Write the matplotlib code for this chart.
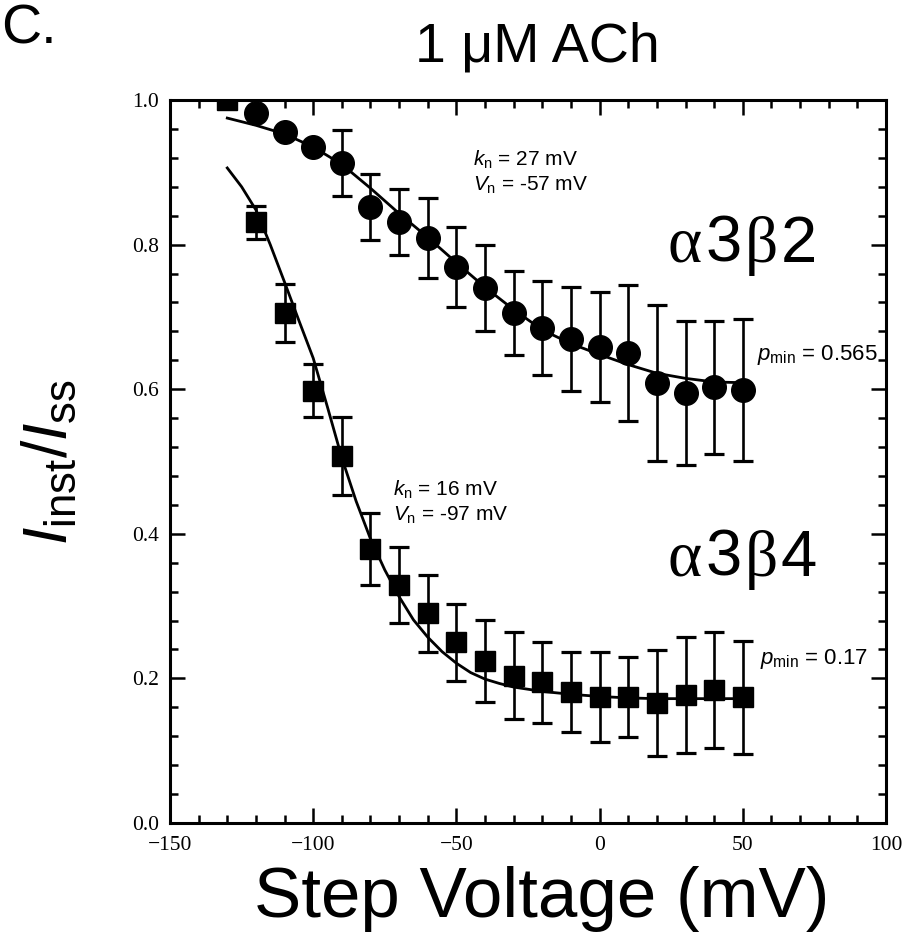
import matplotlib
matplotlib.use("Agg")
import matplotlib.pyplot as plt
from matplotlib.ticker import MultipleLocator

plt.rcParams["mathtext.fontset"] = "custom"
plt.rcParams["mathtext.rm"] = "Liberation Sans"
plt.rcParams["mathtext.it"] = "Liberation Sans:italic"
plt.rcParams["mathtext.sf"] = "Liberation Sans"

# ---- data ----
volt_b2 = [-120, -110, -100, -90, -80, -70, -60, -50, -40, -30, -20, -10, 0, 10, 20, 30, 40, 50]
ratio_b2 = [0.982, 0.956, 0.935, 0.913, 0.852, 0.831, 0.809, 0.769, 0.740, 0.705, 0.685, 0.669,
            0.658, 0.650, 0.609, 0.595, 0.603, 0.599]
err_b2 = [0.005, 0.005, 0.005, 0.046, 0.045, 0.046, 0.055, 0.055, 0.060, 0.058, 0.065, 0.072,
          0.076, 0.094, 0.108, 0.100, 0.092, 0.098]

volt_b4 = [-130, -120, -110, -100, -90, -80, -70, -60, -50, -40, -30, -20, -10, 0, 10, 20, 30, 40, 50]
ratio_b4 = [1.000, 0.831, 0.705, 0.598, 0.508, 0.379, 0.329, 0.290, 0.250, 0.224, 0.204, 0.195,
            0.181, 0.174, 0.174, 0.166, 0.177, 0.184, 0.174]
err_b4 = [0.0, 0.023, 0.040, 0.037, 0.054, 0.050, 0.053, 0.053, 0.053, 0.057, 0.060, 0.056,
          0.055, 0.062, 0.055, 0.073, 0.080, 0.080, 0.078]

fit_v_b2 = [-130, -120, -110, -100, -90, -80, -70, -60, -50, -40, -30, -20, -10, 0, 10, 20, 30, 40, 50]
fit_y_b2 = [0.975, 0.965, 0.953, 0.935, 0.911, 0.878, 0.843, 0.810, 0.775, 0.741, 0.710, 0.682,
            0.663, 0.648, 0.634, 0.622, 0.615, 0.610, 0.609]

fit_v_b4 = [-130, -125, -120, -115, -110, -105, -100, -95, -90, -85, -80, -75, -70, -65, -60, -55,
            -50, -45, -40, -35, -30, -20, -10, 0, 10, 20, 30, 40, 50]
fit_y_b4 = [0.906, 0.880, 0.848, 0.800, 0.748, 0.695, 0.643, 0.575, 0.505, 0.445, 0.393, 0.350,
            0.313, 0.281, 0.257, 0.237, 0.221, 0.208, 0.199, 0.193, 0.188, 0.182, 0.178, 0.175,
            0.173, 0.172, 0.172, 0.172, 0.172]

x_ticks = [-150, -100, -50, 0, 50, 100]
x_ticklabels = ["\u2212150", "\u2212100", "\u221250", "0", "50", "100"]
y_ticks = [0.0, 0.2, 0.4, 0.6, 0.8, 1.0]
y_ticklabels = ["0.0", "0.2", "0.4", "0.6", "0.8", "1.0"]

# ---- figure ----
W, H = 909, 943
fig = plt.figure(figsize=(W / 100, H / 100), dpi=100)
ax = fig.add_axes([170 / W, 1 - 823 / H, (886 - 170) / W, (823 - 100) / H])

ax.plot(fit_v_b2, fit_y_b2, color="black", lw=2.0, zorder=2)
ax.plot(fit_v_b4, fit_y_b4, color="black", lw=2.0, zorder=2)

ax.errorbar(volt_b2, ratio_b2, yerr=err_b2, fmt="o", color="black", ms=17,
            elinewidth=1.9, capsize=7, capthick=2.3, zorder=3)
ax.errorbar(volt_b4, ratio_b4, yerr=err_b4, fmt="s", color="black", ms=15,
            elinewidth=1.9, capsize=7, capthick=2.3, zorder=3)

ax.set_xlim(-150, 100)
ax.set_ylim(0.0, 1.0)
ax.set_xticks(x_ticks)
ax.set_xticklabels(x_ticklabels)
ax.set_yticks(y_ticks)
ax.set_yticklabels(y_ticklabels)
ax.xaxis.set_minor_locator(MultipleLocator(10))
ax.yaxis.set_minor_locator(MultipleLocator(0.04))
ax.tick_params(which="both", direction="in", top=True, right=True, width=1.8, color="black")
ax.tick_params(which="major", length=11)
ax.tick_params(axis="x", which="major", pad=9)
ax.tick_params(axis="y", which="major", pad=8)
ax.tick_params(which="minor", length=6)
for lab in ax.get_xticklabels() + ax.get_yticklabels():
    lab.set_fontfamily("Liberation Serif")
    lab.set_fontsize(15.5)
for s in ax.spines.values():
    s.set_linewidth(2.2)

sans = "Liberation Sans"
ax.set_xlabel("Step Voltage (mV)", fontsize=51, family=sans)
ax.xaxis.set_label_coords((542 - 170) / 716, -(899 - 823) / 723)
ax.xaxis.label.set_va("center")
ax.set_ylabel(r"$\mathit{I}_{\mathrm{inst}}/\mathit{I}_{\mathrm{ss}}$", fontsize=45)
ax.yaxis.set_label_coords(-(170 - 50) / 716, (823 - 462) / 723)
ax.yaxis.label.set_va("center")

fig.text(537 / W, 1 - 61 / H, "1 \u03bcM ACh", fontsize=40, family=sans, ha="center", va="baseline")
fig.text(1 / W, 1 - 43 / H, "C.", fontsize=40, family=sans, ha="left", va="baseline")


def mixed(x_px, y_px, parts, size):
    """Place consecutive text pieces (text, family) starting at pixel x, baseline y."""
    fig.canvas.draw()
    r = fig.canvas.get_renderer()
    x = x_px
    for txt, fam in parts:
        t = fig.text(x / W, 1 - y_px / H, txt, fontsize=size, family=fam, ha="left", va="baseline")
        bb = t.get_window_extent(renderer=r)
        x += bb.width + 3


serif = "Liberation Serif"
mixed(668, 262, [("\u03b1", serif), ("3", sans), ("\u03b2", serif), ("2", sans)], 47)
mixed(668, 576, [("\u03b1", serif), ("3", sans), ("\u03b2", serif), ("4", sans)], 47)

fig.text(473 / W, 1 - 166 / H, r"$\mathit{k}_{\mathrm{n}}$ = 27 mV", fontsize=15, family=sans)
fig.text(473 / W, 1 - 191 / H, r"$\mathit{V}_{\mathrm{n}}$ = -57 mV", fontsize=15, family=sans)
fig.text(393 / W, 1 - 496 / H, r"$\mathit{k}_{\mathrm{n}}$ = 16 mV", fontsize=15, family=sans)
fig.text(393 / W, 1 - 521 / H, r"$\mathit{V}_{\mathrm{n}}$ = -97 mV", fontsize=15, family=sans)
fig.text(757 / W, 1 - 360 / H, r"$\mathit{p}_{\mathrm{min}}$ = 0.565", fontsize=16, family=sans)
fig.text(760 / W, 1 - 664 / H, r"$\mathit{p}_{\mathrm{min}}$ = 0.17", fontsize=16, family=sans)

fig.savefig("out.png", dpi=100)
